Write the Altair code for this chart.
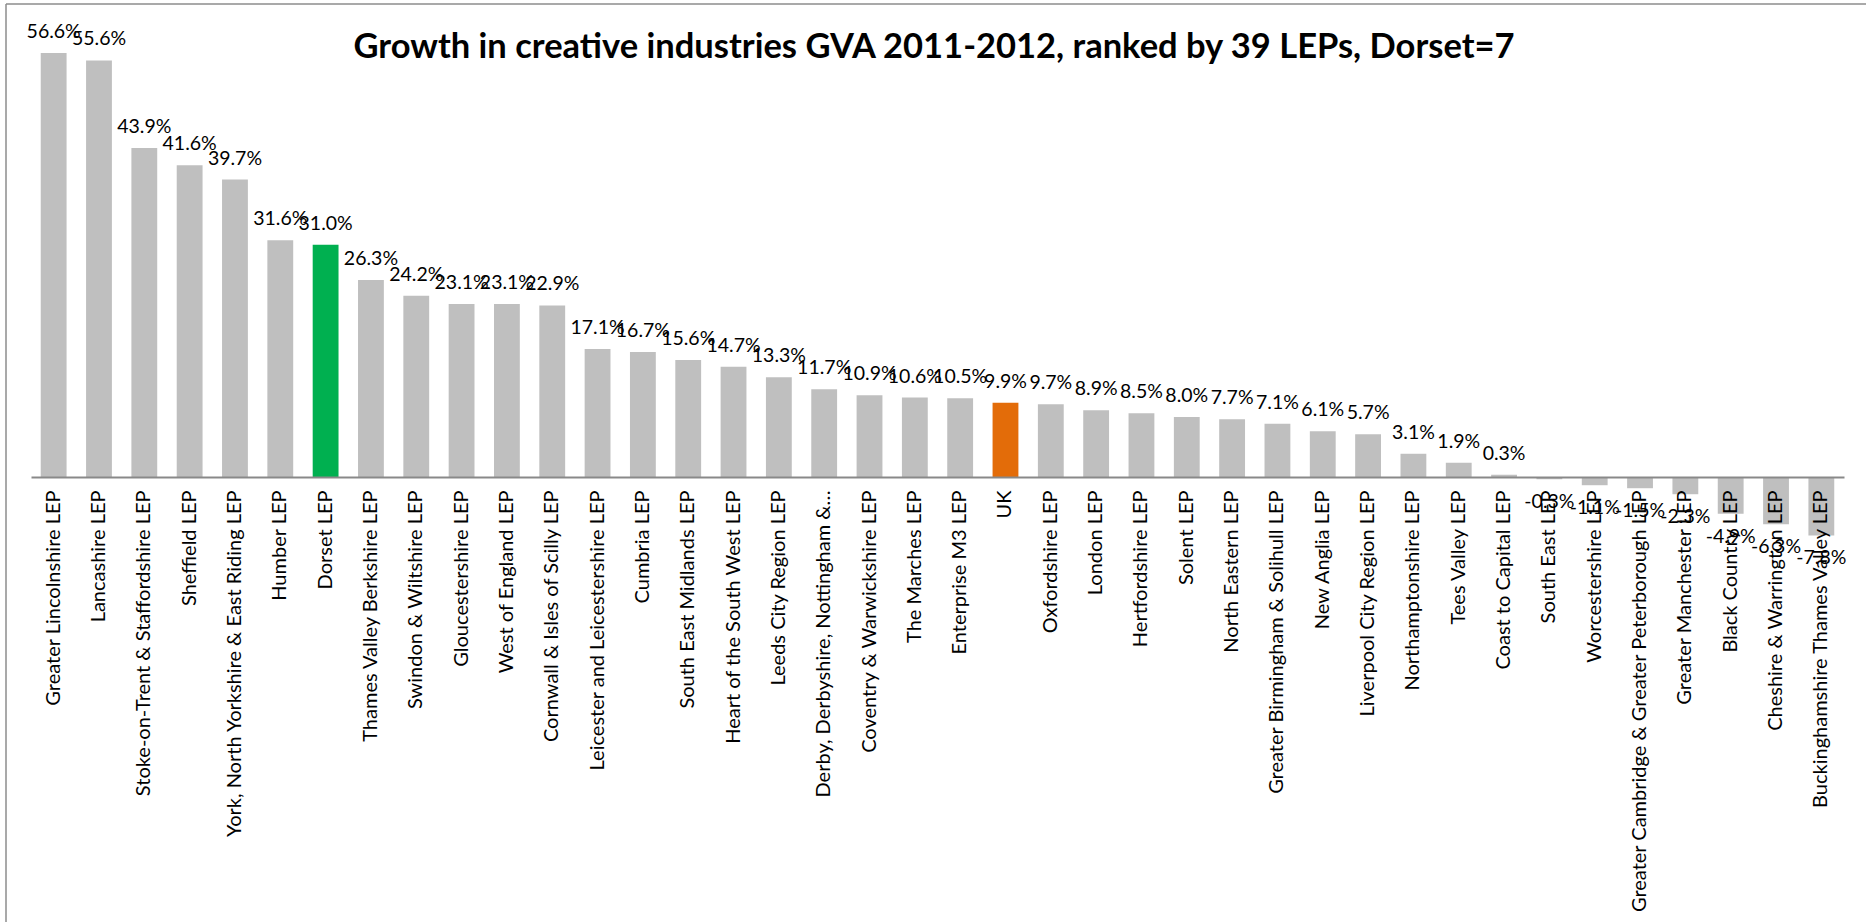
import altair as alt
import pandas as pd

# Creative industries GVA growth 2011-2012 (%), ranked by LEP
regions = [
    "Greater Lincolnshire LEP", "Lancashire LEP", "Stoke-on-Trent & Staffordshire LEP",
    "Sheffield LEP", "York, North Yorkshire & East Riding LEP", "Humber LEP", "Dorset LEP",
    "Thames Valley Berkshire LEP", "Swindon & Wiltshire LEP", "Gloucestershire LEP",
    "West of England LEP", "Cornwall & Isles of Scilly LEP", "Leicester and Leicestershire LEP",
    "Cumbria LEP", "South East Midlands LEP", "Heart of the South West LEP",
    "Leeds City Region LEP", "Derby, Derbyshire, Nottingham &\u2026",
    "Coventry & Warwickshire LEP", "The Marches LEP", "Enterprise M3 LEP", "UK",
    "Oxfordshire LEP", "London LEP", "Hertfordshire LEP", "Solent LEP", "North Eastern LEP",
    "Greater Birmingham & Solihull LEP", "New Anglia LEP", "Liverpool City Region LEP",
    "Northamptonshire LEP", "Tees Valley LEP", "Coast to Capital LEP", "South East LEP",
    "Worcestershire LEP", "Greater Cambridge & Greater Peterborough LEP",
    "Greater Manchester LEP", "Black Country LEP", "Cheshire & Warrington LEP",
    "Buckinghamshire Thames Valley LEP",
]
growth = [
    56.6, 55.6, 43.9, 41.6, 39.7, 31.6, 31.0, 26.3, 24.2, 23.1,
    23.1, 22.9, 17.1, 16.7, 15.6, 14.7, 13.3, 11.7, 10.9, 10.6,
    10.5, 9.9, 9.7, 8.9, 8.5, 8.0, 7.7, 7.1, 6.1, 5.7,
    3.1, 1.9, 0.3, -0.3, -1.1, -1.5, -2.3, -4.9, -6.3, -7.8,
]
title_text = "Growth in creative industries GVA 2011-2012, ranked by 39 LEPs, Dorset=7"

df = pd.DataFrame({"region": regions, "growth": growth})

FONT = "Lato"
Y_MIN, Y_MAX = -10, 60
PLOT_W = 1813
PLOT_H = 524.4
PAD_L, PAD_T = 31, 27.5
ZERO_OFFSET = PLOT_H * (0 - Y_MIN) / (Y_MAX - Y_MIN)

x_enc = alt.X(
    "region:N",
    sort=None,
    scale=alt.Scale(domain=regions, paddingInner=0.43, paddingOuter=0.215),
    axis=alt.Axis(
        title=None, labelAngle=270, labelAlign="right", labelBaseline="middle",
        ticks=False, domainColor="#898989", domainWidth=2,
        labelFont=FONT, labelFontSize=20, labelColor="#000000",
        labelPadding=13, labelLimit=600, labelOverlap=False,
        offset=-ZERO_OFFSET, zindex=1,
    ),
)
y_enc = alt.Y("growth:Q", scale=alt.Scale(domain=[Y_MIN, Y_MAX], nice=False, zero=True), axis=None)

base = alt.Chart(df).transform_calculate(
    kind="datum.region === 'Dorset LEP' ? 'Dorset' : (datum.region === 'UK' ? 'UK' : 'LEP')",
    label="replace(format(datum.growth, '.1f'), '\u2212', '-') + '%'",
)

bars = base.mark_bar().encode(
    x=x_enc,
    y=y_enc,
    y2=alt.datum(0),
    color=alt.Color(
        "kind:N",
        scale=alt.Scale(domain=["LEP", "Dorset", "UK"], range=["#BFBFBF", "#00B050", "#E36C09"]),
        legend=None,
    ),
)

pos_labels = base.transform_filter("datum.growth >= 0").mark_text(
    font=FONT, fontSize=19.5, color="#000000", baseline="alphabetic", dy=-15
).encode(x=x_enc, y=y_enc, text="label:N")

neg_labels = base.transform_filter("datum.growth < 0").mark_text(
    font=FONT, fontSize=19.5, color="#000000", baseline="alphabetic", dy=29
).encode(x=x_enc, y=y_enc, text="label:N")

one = pd.DataFrame({"t": [title_text]})

title = alt.Chart(one).mark_text(
    font=FONT, fontSize=34.5, fontWeight="bold", color="#000000",
    align="center", baseline="alphabetic",
).encode(x=alt.value(934 - PAD_L), y=alt.value(58 - PAD_T), text="t:N")

# chart-area frame along the top and left edges
frame_top = alt.Chart(one).mark_rule(color="#8C8C8C", strokeWidth=1.5).encode(
    x=alt.value(6 - PAD_L), x2=alt.value(1866 - PAD_L), y=alt.value(4 - PAD_T)
)
frame_left = alt.Chart(one).mark_rule(color="#8C8C8C", strokeWidth=1.5).encode(
    x=alt.value(6 - PAD_L), y=alt.value(4 - PAD_T), y2=alt.value(922 - PAD_T)
)

chart = alt.layer(bars, pos_labels, neg_labels, title, frame_top, frame_left).properties(
    width=PLOT_W,
    height=PLOT_H,
    padding={"left": PAD_L, "top": PAD_T, "right": 1866 - PAD_L - PLOT_W,
             "bottom": 922 - PAD_T - PLOT_H},
    autosize=alt.AutoSizeParams(type="none"),
    background="#FFFFFF",
).configure_view(stroke=None)

chart.save("out.html", embed_options={"renderer": "svg", "actions": False})
